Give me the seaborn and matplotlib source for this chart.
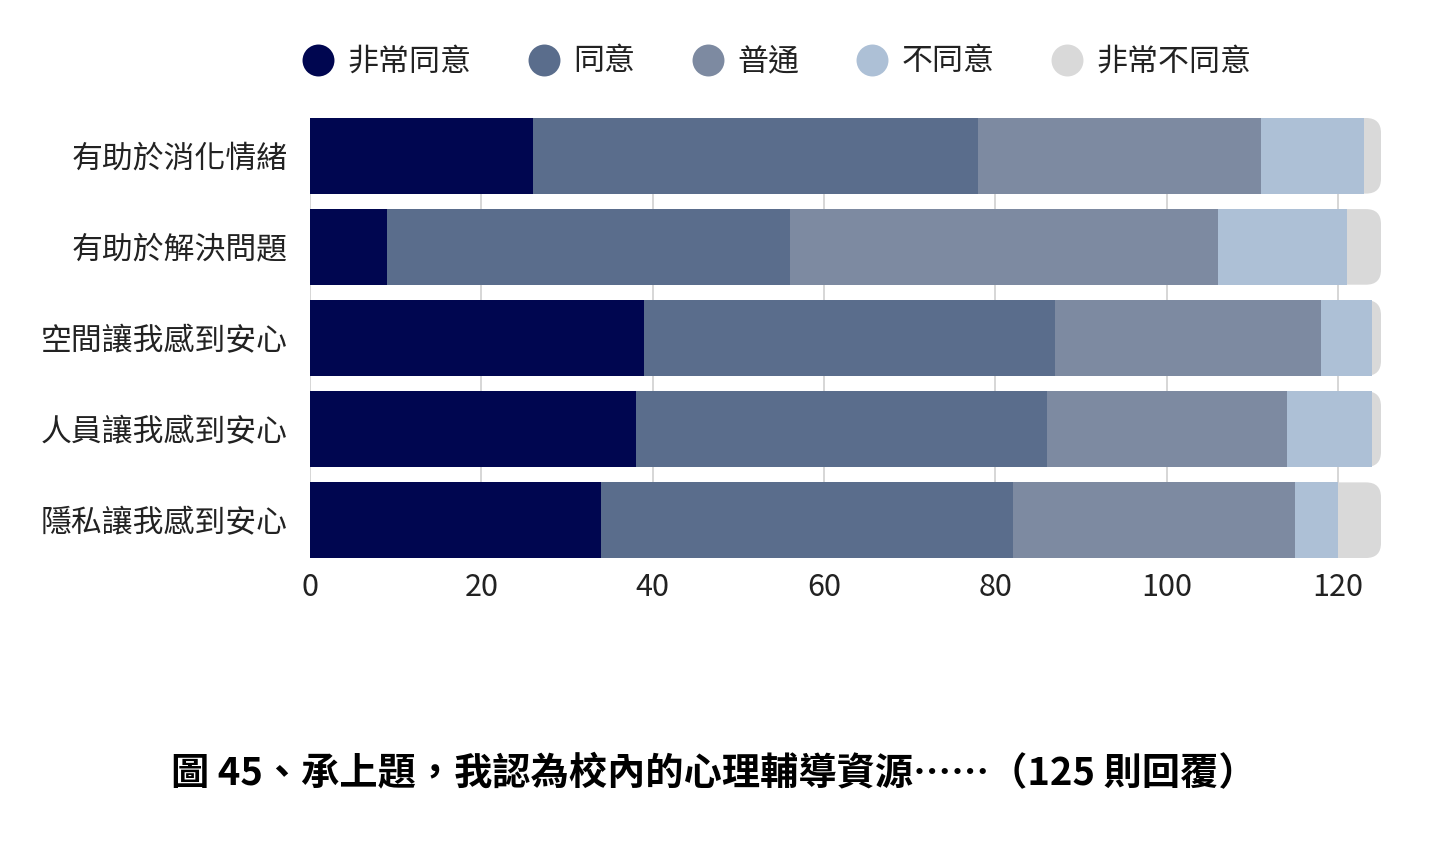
import seaborn as sns
import numpy as np
import pandas as pd
import matplotlib
matplotlib.use("Agg")
from matplotlib import pyplot as plt
from matplotlib.patches import FancyBboxPatch
from matplotlib.lines import Line2D

# donnees (125 reponses)
categories = ['有助於消化情緒', '有助於解決問題', '空間讓我感到安心', '人員讓我感到安心', '隱私讓我感到安心']
niveaux = ['非常同意', '同意', '普通', '不同意', '非常不同意']
tres_daccord = [26, 9, 39, 38, 34]
daccord = [52, 47, 48, 48, 48]
neutre = [33, 50, 31, 28, 33]
pas_daccord = [12, 15, 6, 10, 5]
pas_du_tout = [2, 4, 1, 1, 5]
couleurs = ['#000650', '#5a6d8c', '#7d8aa1', '#adc0d6', '#d9d9d9']

sns.set_theme(style="white")
plt.rcParams['font.family'] = ['Noto Sans CJK TC', 'DejaVu Sans']

df = pd.DataFrame({'cat': categories, '非常同意': tres_daccord, '同意': daccord,
                   '普通': neutre, '不同意': pas_daccord, '非常不同意': pas_du_tout})
cumul = df[niveaux].cumsum(axis=1)

fig = plt.figure(figsize=(14.4, 8.56), dpi=100)
ax = fig.add_axes([310 / 1440, (856 - 558) / 856, (1381 - 310) / 1440, 440 / 856])

# empilement : on trace du plus grand cumul au plus petit
for i in range(len(niveaux) - 1, -1, -1):
    sns.barplot(x=cumul[niveaux[i]], y=df['cat'], color=couleurs[i], orient='h',
                width=0.83, linewidth=0, saturation=1, ax=ax)

# bout arrondi pour la barre de fond
fonds = list(ax.patches[:len(categories)])
for p in fonds:
    x0, y0 = p.get_x(), p.get_y()
    w, h = p.get_width(), p.get_height()
    p.remove()
    ax.add_patch(FancyBboxPatch((x0, y0), w, h, boxstyle="round,pad=0,rounding_size=1.75",
                                mutation_aspect=0.094, facecolor=couleurs[-1],
                                edgecolor='none', zorder=0.8))

ax.set_xlim(0, 125)
ax.set_ylim(4.415, -0.415)
ax.set_xticks([0, 20, 40, 60, 80, 100, 120])
ax.xaxis.grid(True, color='#d0d0d0', linewidth=1.2)
ax.yaxis.grid(False)
ax.set_axisbelow(True)
for s in ax.spines.values():
    s.set_visible(False)
ax.set_xlabel('')
ax.set_ylabel('')
ax.tick_params(axis='y', length=0, pad=16, labelsize=22.2, labelcolor='#222222')
ax.tick_params(axis='x', length=0, pad=10, labelsize=22, labelcolor='#222222')

handles = [Line2D([], [], marker='o', linestyle='', markersize=23,
                  markerfacecolor=c, markeredgecolor='none') for c in couleurs]
fig.legend(handles, niveaux, loc='center', bbox_to_anchor=(777 / 1440, 1 - 62 / 856),
           ncol=5, frameon=False, fontsize=22.3, handletextpad=0.45, columnspacing=1.85,
           handlelength=1.0, labelcolor='#222222')

fig.text(714 / 1440, 1 - 774 / 856, '圖 45、承上題，我認為校內的心理輔導資源……（125 則回覆）',
         ha='center', va='center', fontsize=27.5, fontweight='bold', color='black')

fig.savefig('out.png', dpi=100)
